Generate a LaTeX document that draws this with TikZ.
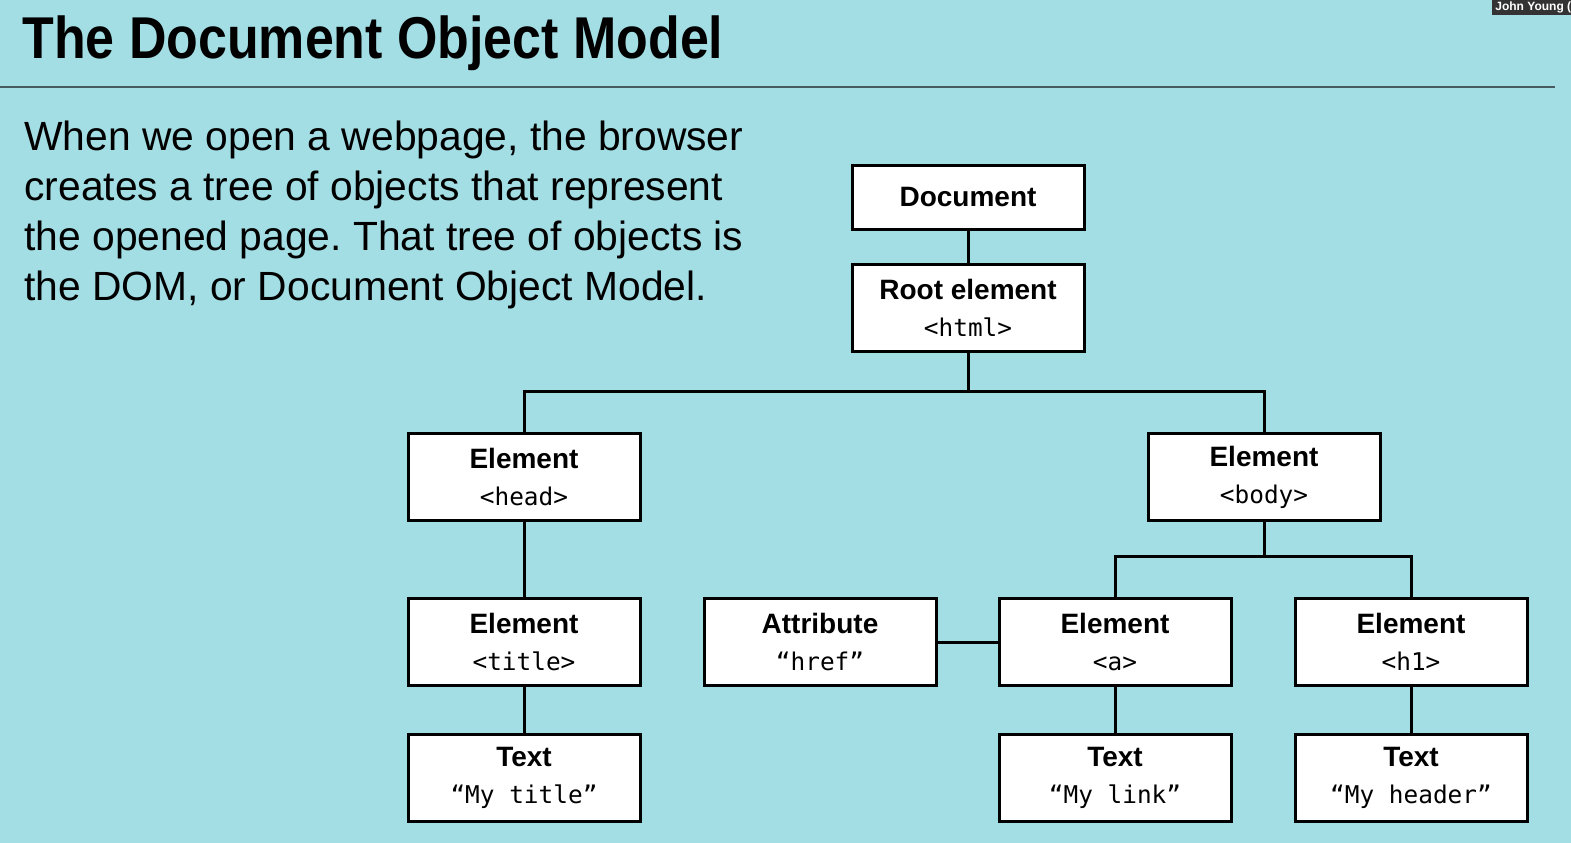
\documentclass[tikz,border=0pt]{standalone}
\usepackage{fontspec}
\setmainfont{Liberation Sans}
\setmonofont{DejaVu Sans Mono}
\usetikzlibrary{shadows}
\definecolor{slidebg}{RGB}{162,222,228}
\definecolor{rulegray}{RGB}{70,90,95}
\newcommand{\tagtext}[1]{{\ttfamily\fontsize{12.2}{12}\selectfont #1}}
\frenchspacing

\begin{document}
\begin{tikzpicture}[x=0.5pt,y=-0.5pt,
	box/.style={draw, line width=1.5pt, fill=white, minimum width=116pt, minimum height=43.5pt,
		inner sep=0pt, align=center, font=\fontsize{14}{18.5}\selectfont,
		drop shadow={opacity=0.25, shadow xshift=0.8pt, shadow yshift=-0.8pt}},
	link/.style={line width=1.5pt}]
\useasboundingbox (0,0) rectangle (1571,842);
\fill[slidebg] (-2,-2) rectangle (1573,844);

% heading and rule
\path (22,58) node[anchor=base west, inner sep=0pt, font=\fontsize{29.5}{30}\selectfont\bfseries] (heading)
		{\scalebox{0.88}[1]{The Document Object Model}};
\draw[rulegray, line width=0.75pt] (0,87) -- (1555,87);

\path (24,121) node[anchor=north west, inner sep=0pt, align=left, font=\fontsize{20.4}{25}\selectfont] (intro)
		{When we open a webpage, the browser\\creates a tree of objects that represent\\the opened page. That tree of objects is\\the DOM, or Document Object Model.};

% overlay name
\fill[black!80] (1492,0) rectangle (1571,15);
\begin{scope}
\clip (1492,0) rectangle (1571,15);
\path (1495,7) node[anchor=west, inner sep=0pt, text=white, font=\fontsize{6}{6}\selectfont\bfseries] (name) {John Young (};
\end{scope}

% tree
\path (968,197) node[box, minimum height=32pt] (doc) {\bfseries Document}
		(968,308) node[box] (root) {\bfseries Root element\\\tagtext{<html>}}
		(524,477) node[box] (head) {\bfseries Element\\\tagtext{<head>}}
		(1264,477) node[box] (body) {\bfseries Element\\\tagtext{<body>}}
		(524,642) node[box] (title) {\bfseries Element\\\tagtext{<title>}}
		(820,642) node[box] (attr) {\bfseries Attribute\\\tagtext{“href”}}
		(1115,642) node[box] (anchor) {\bfseries Element\\\tagtext{<a>}}
		(1411,642) node[box] (hone) {\bfseries Element\\\tagtext{<h1>}}
		(524,778) node[box] (mytitle) {\bfseries Text\\\tagtext{“My title”}}
		(1115,778) node[box] (mylink) {\bfseries Text\\\tagtext{“My link”}}
		(1411,778) node[box] (myheader) {\bfseries Text\\\tagtext{“My header”}}
		;

\draw[link] (doc) -- (root);
\draw[link] (root.south) -- ++(0,38) coordinate (rootfork);
\draw[link] (rootfork) -| (head.north);
\draw[link] (rootfork) -| (body.north);
\draw[link] (head) -- (title);
\draw[link] (title) -- (mytitle);
\draw[link] (body.south) -- ++(0,34) coordinate (bodyfork);
\draw[link] (bodyfork) -| (anchor.north);
\draw[link] (bodyfork) -| (hone.north);
\draw[link] (attr) -- (anchor);
\draw[link] (anchor) -- (mylink);
\draw[link] (hone) -- (myheader);
\end{tikzpicture}
\end{document}
